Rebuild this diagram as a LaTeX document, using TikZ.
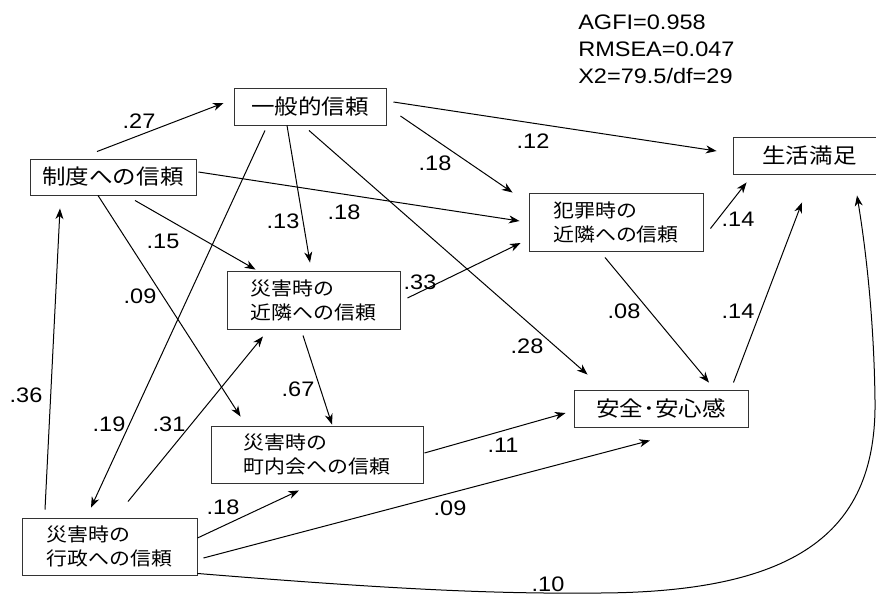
\documentclass[tikz,border=0pt]{standalone}
\usepackage{fontspec}
\setmainfont{Liberation Sans}[FakeStretch=1.12]
\newfontfamily\jpfont{Noto Sans CJK JP}[FakeStretch=1.12]
\usetikzlibrary{arrows.meta,calc}

\tikzset{
  box/.style={draw=black!80, line width=0.7pt, inner sep=0pt, font=\jpfont\fontsize{15.75}{18}\selectfont},
  box2/.style={box, align=left, font=\jpfont\fontsize{14}{18}\selectfont},
  lab/.style={inner sep=0pt, font=\fontsize{15.75}{18}\selectfont},
  arr/.style={-{Stealth[length=8pt,width=6pt,inset=2.5pt]}, line width=0.75pt}
}

\begin{document}
\begin{tikzpicture}[x=0.75pt, y=-0.75pt]
\useasboundingbox (0,0) rectangle (876,594);

% boxes
\node[box, minimum width=114pt, minimum height=27.75pt] (ippan) at (310,106.5) {一般的信頼};
\node[box, minimum width=124.5pt, minimum height=27pt] (seido) at (113,177) {制度への信頼};
\node[box2, minimum width=129.75pt, minimum height=43.5pt] (kinsai) at (313.5,300) {災害時の\\近隣への信頼};
\node[box2, minimum width=159pt, minimum height=42.75pt] (chonai) at (317,454.5) {災害時の\\町内会への信頼};
\node[box2, minimum width=131.25pt, minimum height=42.75pt] (gyosei) at (109.5,546.5) {災害時の\\行政への信頼};
\node[box2, minimum width=130.5pt, minimum height=43.5pt] (hanzai) at (616,222) {犯罪時の\\近隣への信頼};
\node[box, minimum width=130.5pt, minimum height=27.75pt] (anzen) at (661,408.5) {安全･安心感};
\node[box, minimum width=114.75pt, minimum height=27.75pt] (seikatsu) at (809.5,155.5) {生活満足};

% fit indices
\node[lab, anchor=north west, align=left, font=\fontsize{15.75}{19.9}\selectfont] (fitidx) at (578,15) {AGFI=0.958\\RMSEA=0.047\\X2=79.5/df=29};

% paths
\draw[arr] ($(seido.north)+(-16,-7)$) -- ($(ippan.west)+(-10,-3.5)$);
\draw[arr] ($(ippan.east)+(7,-4.5)$) -- ($(seikatsu.west)+(-16,-4.5)$);
\draw[arr] ($(ippan.east)+(14,9.5)$) -- ($(hanzai.north west)+(-16,0)$);
\draw[arr] ($(ippan.south)+(-23,0)$) -- ($(kinsai.north)+(-3.5,-8)$);
\draw[arr] ($(ippan.south)+(-1,5)$) -- ($(anzen.north west)+(14,-15)$);
\draw[arr] ($(ippan.south)+(-45,5)$) -- ($(gyosei.north)+(-18.5,-10)$);
\draw[arr] ($(seido.east)+(2,-5)$) -- ($(hanzai.west)+(-9,-1)$);
\draw[arr] ($(seido.south)+(22,5)$) -- ($(kinsai.north west)+(29,-1)$);
\draw[arr] ($(seido.south)+(-15,0)$) -- ($(chonai.north west)+(30,-9)$);
\draw[arr] ($(gyosei.north)+(-64.5,-8)$) -- ($(seido.south)+(-53,13)$);
\draw[arr] ($(gyosei.north)+(18.5,-16)$) -- ($(kinsai.south)+(-50.5,7)$);
\draw[arr] ($(gyosei.east)+(0,-8.5)$) -- ($(chonai.south)+(-18,7)$);
\draw[arr] ($(gyosei.east)+(6,11.5)$) -- ($(anzen.south)+(-11,13)$);
\draw[arr] ($(gyosei.south east)+(0,-2)$) .. controls (400,590) and (500,594) .. (600,593)
  .. controls (800,592) and (877,530) .. (875,400)
  .. controls (874,320) and (866,250) .. ($(seikatsu.south)+(47.5,21)$);
\draw[arr] ($(kinsai.south)+(-10.5,6)$) -- ($(chonai.north)+(15,-1)$);
\draw[arr] ($(kinsai.east)+(7,-2)$) -- ($(hanzai.west)+(-8,21)$);
\draw[arr] ($(chonai.east)+(1,-1.5)$) -- ($(anzen.west)+(-8,4.5)$);
\draw[arr] ($(hanzai.east)+(7,6.5)$) -- ($(seikatsu.south west)+(14,8)$);
\draw[arr] ($(hanzai.south)+(-11,6)$) -- ($(anzen.north)+(48,-7)$);
\draw[arr] ($(anzen.north east)+(-15,-7)$) -- ($(seikatsu.south)+(-7.5,28)$);

% coefficients
\node[lab] (l27) at (139,121) {.27};
\node[lab] (l12) at (533,141) {.12};
\node[lab] (l18a) at (435,163) {.18};
\node[lab] (l13) at (283,221) {.13};
\node[lab] (l18b) at (344,212) {.18};
\node[lab] (l15) at (163,241) {.15};
\node[lab] (l09a) at (140,296) {.09};
\node[lab] (l33) at (420,282) {.33};
\node[lab] (l36) at (26,395) {.36};
\node[lab] (l19) at (109,424) {.19};
\node[lab] (l31) at (169,424) {.31};
\node[lab] (l67) at (298,389) {.67};
\node[lab] (l18c) at (223,507) {.18};
\node[lab] (l28) at (527,346) {.28};
\node[lab] (l08) at (624,311) {.08};
\node[lab] (l14a) at (738,311) {.14};
\node[lab] (l14b) at (738,219) {.14};
\node[lab] (l11) at (503,445) {.11};
\node[lab] (l09b) at (450,508) {.09};
\node[lab] (l10) at (548,584) {.10};
\end{tikzpicture}
\end{document}
